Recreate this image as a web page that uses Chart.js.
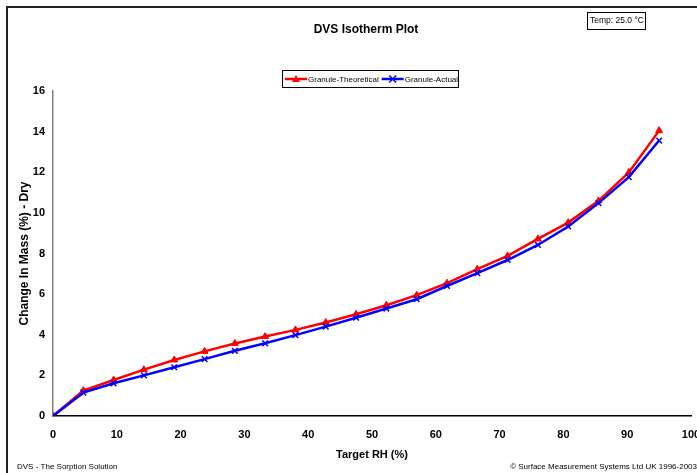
<!DOCTYPE html>
<html>
<head>
<meta charset="utf-8">
<script src="https://cdn.jsdelivr.net/npm/chart.js@4.4.1/dist/chart.umd.min.js"></script>
<style>
  html, body { margin: 0; padding: 0; background: #fff; }
  #wrap { width: 697px; height: 473px; }
</style>
</head>
<body>
<div id="wrap"><canvas id="isoChart" width="697" height="473"></canvas></div>
<script>
// Target RH (%) for each step
const targetRH = [0, 4.75, 9.5, 14.25, 19, 23.75, 28.5, 33.25, 38, 42.75, 47.5,
    52.25, 57, 61.75, 66.5, 71.25, 76, 80.75, 85.5, 90.25, 95];
// Change in mass (%) - dry
const theoretical = [0, 1.25, 1.77, 2.28, 2.76, 3.18, 3.57, 3.91, 4.24, 4.6, 5.01,
    5.45, 5.95, 6.54, 7.23, 7.88, 8.72, 9.52, 10.59, 11.99, 14.05];
const actual = [0, 1.15, 1.61, 2.0, 2.4, 2.8, 3.21, 3.58, 3.98, 4.4, 4.84,
    5.29, 5.75, 6.4, 7.03, 7.68, 8.42, 9.33, 10.48, 11.76, 13.56];
const xTicks = [0, 10, 20, 30, 40, 50, 60, 70, 80, 90, 100];
const yTicks = [0, 2, 4, 6, 8, 10, 12, 14, 16];

const FONT = '"Liberation Sans", Arial, sans-serif';

const toPoints = (xs, ys) => xs.map((x, i) => ({ x: x, y: ys[i] }));

// frame, title, legend box, temp box and footer
const decor = {
    id: 'decor',
    afterDraw(chart) {
        const c = chart.ctx;
        c.save();
        // outer frame
        c.strokeStyle = '#222';
        c.lineWidth = 2;
        c.beginPath();
        c.moveTo(7, 480);
        c.lineTo(7, 7);
        c.lineTo(700, 7);
        c.stroke();

        // title
        c.fillStyle = '#000';
        c.font = 'bold 12px ' + FONT;
        c.textAlign = 'center';
        c.textBaseline = 'middle';
        c.fillText('DVS Isotherm Plot', 366, 30);

        // temperature box
        c.lineWidth = 1;
        c.strokeStyle = '#000';
        c.strokeRect(587.5, 12.5, 58, 17);
        c.font = '8.5px ' + FONT;
        c.textAlign = 'left';
        c.fillText('Temp: 25.0 \u00B0C', 590, 21);

        // legend
        c.strokeRect(282.5, 70.5, 176, 17);
        let lx = 285;
        chart.data.datasets.forEach(ds => {
            c.strokeStyle = ds.borderColor;
            c.fillStyle = ds.borderColor;
            c.lineWidth = 2.5;
            c.beginPath();
            c.moveTo(lx, 79);
            c.lineTo(lx + 22, 79);
            c.stroke();
            c.lineWidth = 1.5;
            const mx = lx + 11;
            if (ds.pointStyle === 'triangle') {
                c.beginPath();
                c.moveTo(mx, 75);
                c.lineTo(mx + 4, 82);
                c.lineTo(mx - 4, 82);
                c.closePath();
                c.fill();
            } else {
                c.beginPath();
                c.moveTo(mx - 3.5, 75.5);
                c.lineTo(mx + 3.5, 82.5);
                c.moveTo(mx + 3.5, 75.5);
                c.lineTo(mx - 3.5, 82.5);
                c.stroke();
            }
            c.fillStyle = '#000';
            c.font = '8px ' + FONT;
            c.textAlign = 'left';
            c.fillText(ds.label, lx + 23, 79.5);
            lx += 23 + c.measureText(ds.label).width + 3;
        });

        // footer
        c.fillStyle = '#000';
        c.font = '8px ' + FONT;
        c.textAlign = 'left';
        c.fillText('DVS - The Sorption Solution', 17, 467);
        c.textAlign = 'right';
        c.fillText('\u00A9 Surface Measurement Systems Ltd UK 1996-2003', 697, 467);
        c.restore();
    }
};

new Chart(document.getElementById('isoChart').getContext('2d'), {
    type: 'scatter',
    data: {
        datasets: [{
            label: 'Granule-Theoretical',
            data: toPoints(targetRH, theoretical),
            showLine: true,
            borderColor: '#ff0000',
            backgroundColor: '#ff0000',
            borderWidth: 2.5,
            pointStyle: 'triangle',
            pointRadius: 4,
            pointBorderWidth: 1,
            order: 2
        }, {
            label: 'Granule-Actual',
            data: toPoints(targetRH, actual),
            showLine: true,
            borderColor: '#0000ff',
            backgroundColor: '#0000ff',
            borderWidth: 2.5,
            pointStyle: 'crossRot',
            pointRadius: 4,
            pointBorderWidth: 1.5,
            order: 1
        }]
    },
    options: {
        responsive: false,
        animation: false,
        layout: { padding: { top: 91, right: 6, left: 15, bottom: 0 } },
        plugins: {
            legend: { display: false },
            tooltip: { enabled: false }
        },
        scales: {
            x: {
                type: 'linear',
                min: 0,
                max: 100,
                afterBuildTicks: axis => { axis.ticks = xTicks.map(v => ({ value: v })); },
                afterFit: axis => {
                    axis.height = 57;
                    axis.paddingRight = 0;
                    axis.paddingLeft = 0;
                },
                grid: { display: false, drawOnChartArea: false, tickLength: 5, color: '#000' },
                border: { display: true, color: '#000', width: 1.5 },
                ticks: {
                    color: '#000',
                    font: { family: FONT, size: 11, weight: 'bold' },
                    padding: 7,
                    maxRotation: 0
                },
                title: {
                    display: true,
                    text: 'Target RH (%)',
                    color: '#000',
                    font: { family: FONT, size: 11, weight: 'bold' },
                    padding: { top: 4, bottom: 11 }
                }
            },
            y: {
                min: 0,
                max: 16,
                afterBuildTicks: axis => { axis.ticks = yTicks.map(v => ({ value: v })); },
                afterFit: axis => { axis.width = 38; },
                grid: { display: false, drawOnChartArea: false, tickLength: 5, color: '#808080' },
                border: { display: true, color: '#808080', width: 1.5 },
                ticks: {
                    color: '#000',
                    font: { family: FONT, size: 11, weight: 'bold' },
                    padding: 3
                },
                title: {
                    display: true,
                    text: 'Change In Mass (%) - Dry',
                    color: '#000',
                    font: { family: FONT, size: 12, weight: 'bold' },
                    padding: { top: 2, bottom: 0 }
                }
            }
        }
    },
    plugins: [decor]
});
</script>
</body>
</html>
